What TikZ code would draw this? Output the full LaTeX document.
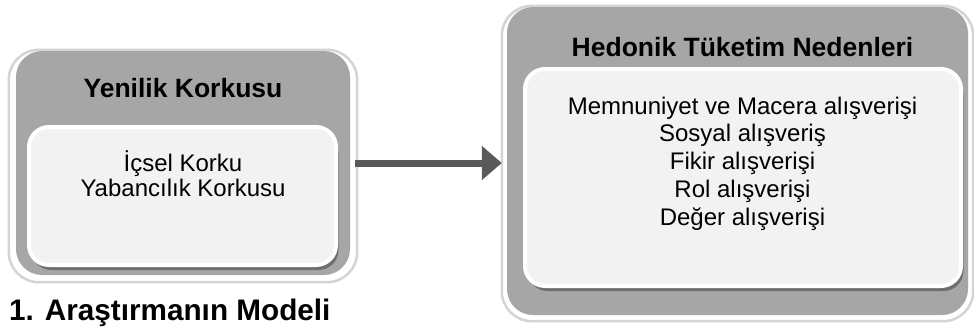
\documentclass[tikz,border=0pt]{standalone}
\usepackage{fontspec}
\setmainfont{Liberation Sans}
\usepackage{xcolor}
\usepackage{tikz}
\usetikzlibrary{positioning}
\usetikzlibrary{arrows.meta}
\usetikzlibrary{shadows}
\usetikzlibrary{backgrounds}

\definecolor{panelgray}{HTML}{A6A6A6}
\definecolor{panelfill}{HTML}{F2F2F2}
\definecolor{panelline}{HTML}{D4D4D4}
\definecolor{panelshade}{HTML}{6E6E6E}
\definecolor{arrowgray}{HTML}{595959}

\begin{document}
\begin{tikzpicture}[x=1pt,y=-1pt,
    outerbox/.style={rectangle, rounded corners=26pt, fill=panelgray, inner sep=0pt},
    innerbox/.style={rectangle, rounded corners=20pt, fill=panelfill, draw=white, line width=4pt, inner sep=0pt,
        drop shadow={shadow xshift=2.5pt, shadow yshift=-5pt, fill=panelshade, opacity=1}},
    frameline/.style={draw=panelline, line width=2.5pt, fill=white, rounded corners=30pt},
    headtext/.style={font=\bfseries\fontsize{26.5}{30}\selectfont, inner sep=0pt},
    listtext/.style={align=center, inner sep=0pt},
    flow/.style={draw=arrowgray, line width=7pt, -{Triangle[length=20pt,width=33pt]}}]

    \useasboundingbox (0,0) rectangle (974,327);

    \node[outerbox, minimum width=334pt, minimum height=224pt] (fear) at (183,163) {};
    \node[outerbox, minimum width=461pt, minimum height=308pt] (hedonic) at (737.5,161) {};

    \begin{scope}[on background layer]
        \draw[frameline] ([shift={(-7,-1)}]fear.north west) rectangle ([shift={(7,7)}]fear.south east);
        \draw[frameline] ([shift={(-5,-1)}]hedonic.north west) rectangle ([shift={(5,6)}]hedonic.south east);
    \end{scope}

    \node[innerbox, minimum width=307pt, minimum height=138pt] (fearin) at (182.5,196) {};
    \node[innerbox, minimum width=436pt, minimum height=217pt] (hedonicin) at (743,177.5) {};

    \node[headtext] (feartitle) at (183,88) {Yenilik Korkusu};
    \node[headtext] (hedonictitle) at (742.5,47) {Hedonik Tüketim Nedenleri};

    \node[listtext, font=\fontsize{24}{25}\selectfont] (fearlist) at (183,173.5)
        {İçsel Korku\\Yabancılık Korkusu};
    \node[listtext, font=\fontsize{24}{27.75}\selectfont] (hedoniclist) at (742.5,163.5)
        {Memnuniyet ve Macera alışverişi\\Sosyal alışveriş\\Fikir alışverişi\\Rol alışverişi\\Değer alışverişi};

    \draw[flow, shorten <=5pt, shorten >=5pt] (fear.east) -- (hedonic.west |- fear.east);

    \node[font=\bfseries\fontsize{29.7}{32}\selectfont, anchor=base west, inner sep=0pt] (caption) at (9,320)
        {1. Araştırmanın Modeli};
\end{tikzpicture}
\end{document}
